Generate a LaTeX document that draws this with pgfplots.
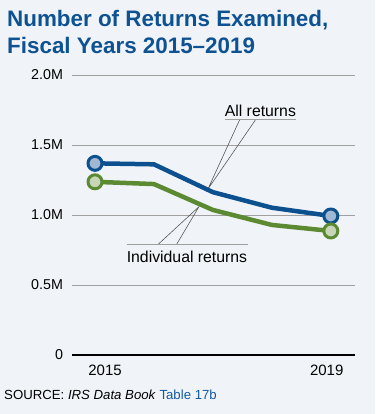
\documentclass[border=0pt]{standalone}
\usepackage{pgfplots}
\pgfplotsset{compat=1.18}
\usepackage{fontspec}
\setmainfont{Liberation Sans}
\definecolor{bg}{RGB}{240,244,248}
\definecolor{titleblue}{RGB}{14,82,146}
\definecolor{allblue}{RGB}{12,80,144}
\definecolor{allfill}{RGB}{160,184,210}
\definecolor{indgreen}{RGB}{92,138,50}
\definecolor{indfill}{RGB}{198,214,182}
\definecolor{gridgray}{RGB}{160,160,160}
\definecolor{leader}{RGB}{90,90,90}
\definecolor{linkblue}{RGB}{20,90,160}
\begin{document}
\begin{tikzpicture}[x=1pt,y=1pt]
\fill[bg] (0,0) rectangle (375,414);
\useasboundingbox (0,0) rectangle (375,414);
\node[anchor=base west, inner sep=0, text=titleblue, font=\fontsize{22.4}{22.4}\selectfont\bfseries] at (7,387.3) {Number of Returns Examined,};
\node[anchor=base west, inner sep=0, text=titleblue, font=\fontsize{22.4}{22.4}\selectfont\bfseries] at (7,360) {Fiscal Years 2015--2019};
\node[anchor=base west, inner sep=0, font=\fontsize{13.2}{13.2}\selectfont] at (4,14.7) {SOURCE: \textit{IRS Data Book} \textcolor{linkblue}{Table 17b}};
\begin{axis}[
  at={(72pt,59pt)}, anchor=south west,
  width=283pt, height=280pt, scale only axis,
  xmin=2014.61, xmax=2019.41, ymin=0, ymax=2,
  ytick={0,0.5,1,1.5,2},
  yticklabels={0,0.5M,1.0M,1.5M,2.0M},
  xtick={2015.17,2018.93},
  xticklabels={2015,2019},
  axis line style={draw=none},
  major tick style={draw=none},
  ymajorgrids,
  grid style={gridgray, line width=0.8pt},
  yticklabel style={font=\fontsize{14.3}{14.3}\selectfont, xshift=-5.5pt},
  xticklabel style={font=\fontsize{15}{15}\selectfont, yshift=-6.7pt},
  clip=false,
]
\draw[black, line width=2pt] (rel axis cs:0,0) -- (rel axis cs:1,0);
% leader lines
\draw[leader, line width=0.6pt] (axis cs:2017.458,1.684) -- (axis cs:2016.915,1.185) -- (axis cs:2017.729,1.684);
\draw[gridgray, line width=0.8pt] (axis cs:2017.203,1.684) -- (axis cs:2018.407,1.684);
\node[anchor=base, inner sep=0, font=\fontsize{15.8}{15.8}\selectfont] at (axis cs:2017.805,1.707) {All returns};
\draw[leader, line width=0.6pt] (axis cs:2016.073,0.791) -- (axis cs:2016.763,1.059) -- (axis cs:2016.385,0.791);
\draw[gridgray, line width=0.8pt] (axis cs:2015.542,0.791) -- (axis cs:2017.593,0.791);
\node[anchor=north, inner sep=0, font=\fontsize{15.8}{15.8}\selectfont] at (axis cs:2016.56,0.743) {Individual returns};
% data
\addplot[allblue, line width=4.5pt, line join=round, mark=*, mark indices={1,5},
  mark options={fill=allfill, draw=allblue, line width=3pt}, mark size=7pt]
  coordinates {(2015,1.369) (2016,1.362) (2017,1.163) (2018,1.052) (2019,0.993)};
\addplot[indgreen, line width=4.5pt, line join=round, mark=*, mark indices={1,5},
  mark options={fill=indfill, draw=indgreen, line width=3pt}, mark size=7pt]
  coordinates {(2015,1.237) (2016,1.221) (2017,1.036) (2018,0.929) (2019,0.886)};
\end{axis}
\end{tikzpicture}
\end{document}
